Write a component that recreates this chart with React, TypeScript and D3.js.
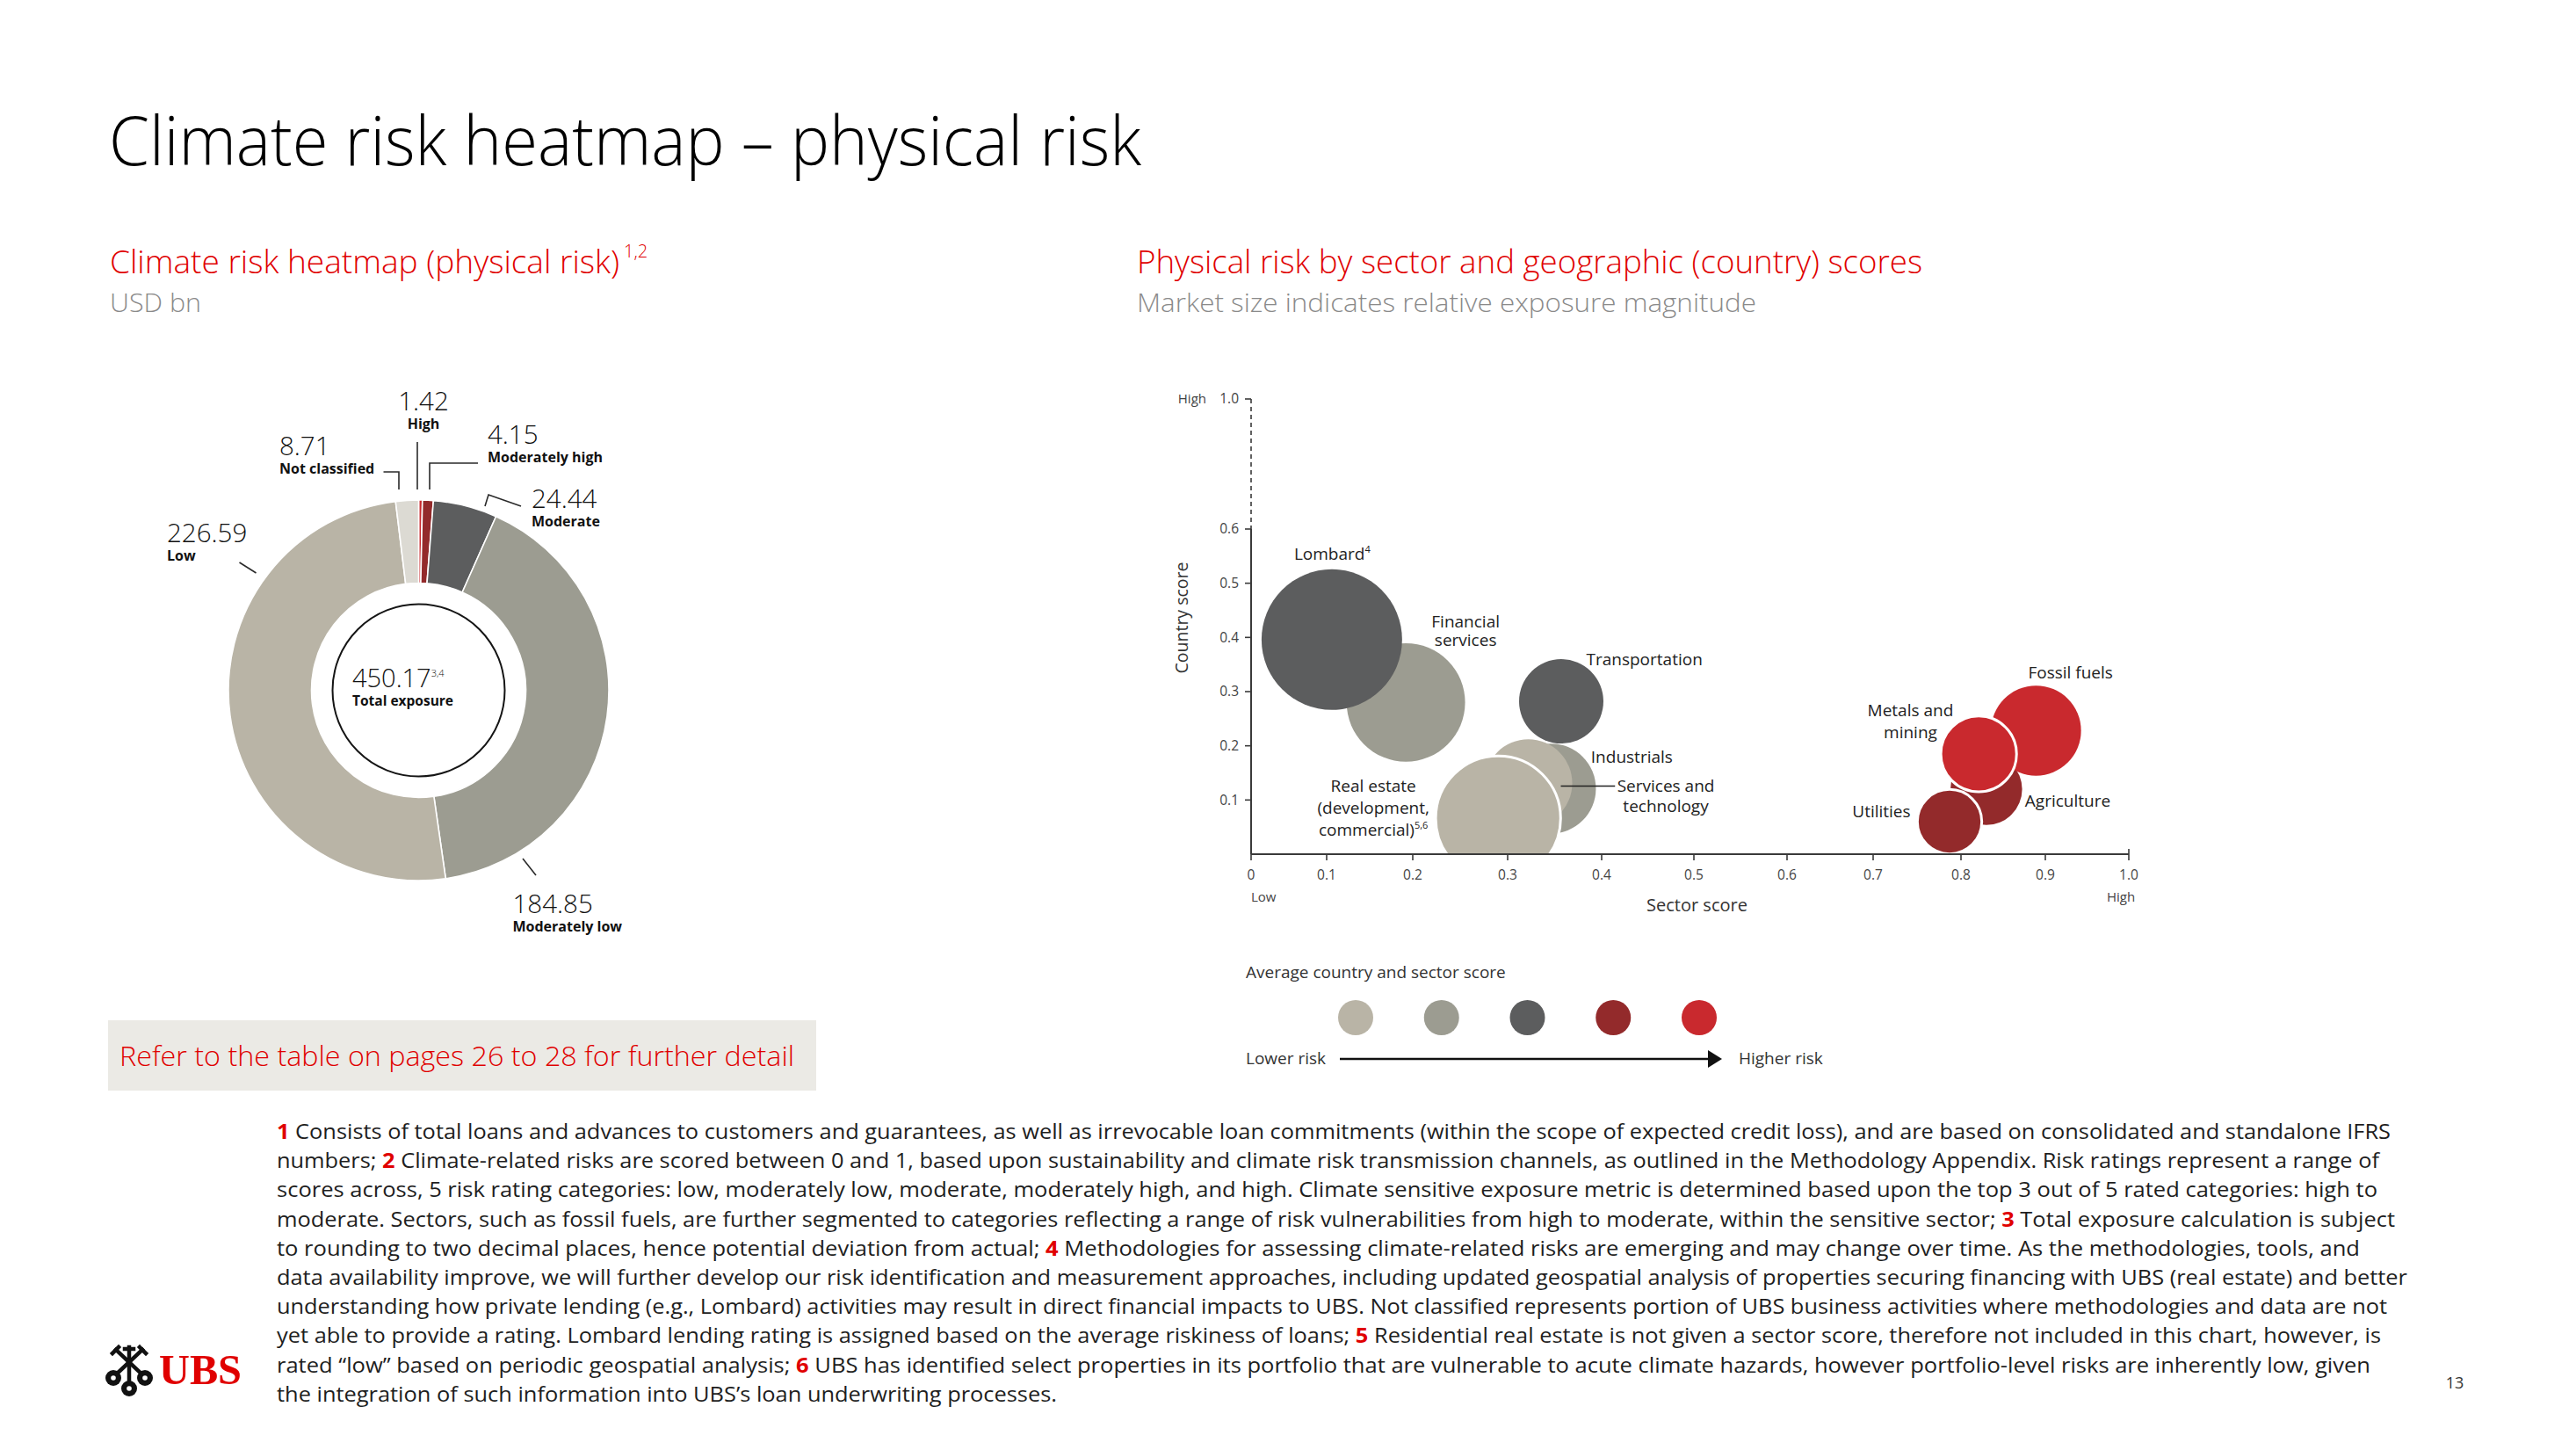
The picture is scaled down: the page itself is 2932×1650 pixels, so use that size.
import React, { useEffect } from "react";
import * as d3 from "d3";

// ---------------- DATA ----------------
const DONUT_CATEGORIES = ["High", "Moderately high", "Moderate", "Moderately low", "Low", "Not classified"];
const DONUT_VALUES = [1.42, 4.15, 24.44, 184.85, 226.59, 8.71];
const DONUT_LABELS = ["1.42", "4.15", "24.44", "184.85", "226.59", "8.71"];
const TOTAL_EXPOSURE = "450.17";

const SECTORS = [
  "Financial services",
  "Lombard",
  "Transportation",
  "Industrials",
  "Services and technology",
  "Real estate",
  "Agriculture",
  "Fossil fuels",
  "Metals and mining",
  "Utilities",
];
const SECTOR_SCORE = [0.192, 0.106, 0.357, 0.346, 0.322, 0.29, 0.83, 0.889, 0.821, 0.787];
const COUNTRY_SCORE = [0.28, 0.396, 0.282, 0.121, 0.131, 0.066, 0.12, 0.228, 0.185, 0.06];
const EXPOSURE_INDEX = [71, 100, 36, 41, 39, 79, 26, 41, 29, 21];
const SECTOR_RISK = [
  "Moderately low",
  "Moderate",
  "Moderate",
  "Moderately low",
  "Low",
  "Low",
  "Moderately high",
  "High",
  "High",
  "Moderately high",
];

const X_TICKS = [0, 0.1, 0.2, 0.3, 0.4, 0.5, 0.6, 0.7, 0.8, 0.9, 1.0];
const X_TICK_LABELS = ["0", "0.1", "0.2", "0.3", "0.4", "0.5", "0.6", "0.7", "0.8", "0.9", "1.0"];
const Y_TICKS = [0.1, 0.2, 0.3, 0.4, 0.5, 0.6, 1.0];
const Y_TICK_LABELS = ["0.1", "0.2", "0.3", "0.4", "0.5", "0.6", "1.0"];

const LEGEND_LEVELS = ["Low", "Moderately low", "Moderate", "Moderately high", "High"];

const FOOTNOTE_LINES = [
  "{1} Consists of total loans and advances to customers and guarantees, as well as irrevocable loan commitments (within the scope of expected credit loss), and are based on consolidated and standalone IFRS",
  "numbers; {2} Climate-related risks are scored between 0 and 1, based upon sustainability and climate risk transmission channels, as outlined in the Methodology Appendix. Risk ratings represent a range of",
  "scores across, 5 risk rating categories: low, moderately low, moderate, moderately high, and high. Climate sensitive exposure metric is determined based upon the top 3 out of 5 rated categories: high to",
  "moderate. Sectors, such as fossil fuels, are further segmented to categories reflecting a range of risk vulnerabilities from high to moderate, within the sensitive sector; {3} Total exposure calculation is subject",
  "to rounding to two decimal places, hence potential deviation from actual; {4} Methodologies for assessing climate-related risks are emerging and may change over time. As the methodologies, tools, and",
  "data availability improve, we will further develop our risk identification and measurement approaches, including updated geospatial analysis of properties securing financing with UBS (real estate) and better",
  "understanding how private lending (e.g., Lombard) activities may result in direct financial impacts to UBS. Not classified represents portion of UBS business activities where methodologies and data are not",
  "yet able to provide a rating. Lombard lending rating is assigned based on the average riskiness of loans; {5} Residential real estate is not given a sector score, therefore not included in this chart, however, is",
  "rated \u201clow\u201d based on periodic geospatial analysis; {6} UBS has identified select properties in its portfolio that are vulnerable to acute climate hazards, however portfolio-level risks are inherently low, given",
  "the integration of such information into UBS\u2019s loan underwriting processes.",
];

// ---------------- STYLE / LAYOUT ----------------
const FONT = "'Open Sans', 'Noto Sans', sans-serif";
const UBS_RED = "#e00000";
const SUB_GRAY = "#8a8a8a";
const RISK_COLORS: Record<string, string> = {
  Low: "#b9b4a6",
  "Moderately low": "#9c9c91",
  Moderate: "#5c5d5e",
  "Moderately high": "#932a2b",
  High: "#c9292e",
  "Not classified": "#dcdad3",
};

const DONUT = { cx: 476.5, cy: 785.5, rOuter: 216.5, rInner: 122, rRing: 98 };
const DONUT_LABEL_LAYOUT: Record<string, any> = {
  High: { x: 5.5, y: -318.5, anchor: "middle", leader: [[-1.5, -282.5], [-1.5, -228.5]] },
  "Not classified": { x: -158.5, y: -267.5, anchor: "start", leader: [[-40, -248.5], [-22.5, -248.5], [-22.5, -228.5]] },
  "Moderately high": { x: 78.5, y: -280.5, anchor: "start", leader: [[67.5, -258.5], [12.5, -258.5], [12.5, -228.5]] },
  Moderate: { x: 128.5, y: -207.5, anchor: "start", leader: [[116.5, -209.5], [79.5, -222.5], [75.5, -209.5]] },
  Low: { x: -286.5, y: -168.5, anchor: "start", leader: [[-204, -145.5], [-185, -133.5]] },
  "Moderately low": { x: 107, y: 253.5, anchor: "start", leader: [[118.5, 191.5], [133.5, 210.5]] },
};

// bubble chart frame
const X_AXIS_PX = [1424, 1510, 1608, 1716, 1823, 1928, 2034, 2132, 2232, 2328, 2423];
const Y_DOMAIN = [0, 0.6, 1.0];
const Y_RANGE = [972, 602, 454];
const MAX_R = 80;
const OUTLINED = new Set(["Real estate", "Metals and mining", "Utilities"]);

const BUBBLE_LABELS: Record<string, any> = {
  Lombard: { lines: ["Lombard"], sup: "4", dx: -43, dy: -91, anchor: "start", lh: 0 },
  "Financial services": { lines: ["Financial", "services"], dx: 68, dy: -85, anchor: "middle", lh: 21 },
  Transportation: { lines: ["Transportation"], dx: 28.5, dy: -41.6, anchor: "start", lh: 0 },
  Industrials: { lines: ["Industrials"], dx: 45.6, dy: -29, anchor: "start", lh: 0 },
  "Services and technology": {
    lines: ["Services and", "technology"],
    dx: 156.5,
    dy: 9.5,
    anchor: "middle",
    lh: 23.5,
    leader: [37, 98.7, 3.4],
  },
  "Real estate": {
    lines: ["Real estate", "(development,", "commercial)"],
    sup: "5,6",
    dx: -142,
    dy: -30.5,
    anchor: "middle",
    lh: 25,
  },
  "Fossil fuels": { lines: ["Fossil fuels"], dx: -9, dy: -59, anchor: "start", lh: 0 },
  "Metals and mining": { lines: ["Metals and", "mining"], dx: -77.7, dy: -43.4, anchor: "middle", lh: 25 },
  Agriculture: { lines: ["Agriculture"], dx: 44, dy: 20.3, anchor: "start", lh: 0 },
  Utilities: { lines: ["Utilities"], dx: -44.4, dy: -4.7, anchor: "end", lh: 0 },
};

const FOOT_X = 315;
const FOOT_Y0 = 1296;
const FOOT_LH = 33.2;
const FOOT_WIDTHS = [2406, 2393, 2391, 2411, 2371, 2425, 2402, 2395, 2383, 888];

function FootLine({ text, i }: { text: string; i: number }) {
  const parts = text.split(/\{(\d)\}/);
  return (
    <text
      x={FOOT_X}
      y={FOOT_Y0 + i * FOOT_LH}
      fontSize={24}
      fill="#1e1e1e"
      textLength={FOOT_WIDTHS[i]}
      lengthAdjust="spacingAndGlyphs"
    >
      {parts.map((p, k) =>
        k % 2 === 1 ? (
          <tspan key={k} fill={UBS_RED} fontWeight={700}>
            {p}
          </tspan>
        ) : (
          <tspan key={k}>{p}</tspan>
        )
      )}
    </text>
  );
}

function Donut() {
  const pie = d3
    .pie<number>()
    .sort(null)
    .value((d) => d)
    .startAngle(0)
    .endAngle(2 * Math.PI);
  const arcs = pie(DONUT_VALUES);
  const arc = d3.arc<d3.PieArcDatum<number>>().innerRadius(DONUT.rInner).outerRadius(DONUT.rOuter);
  const line = d3.line();
  return (
    <g transform={`translate(${DONUT.cx},${DONUT.cy})`}>
      {arcs.map((a, i) => (
        <path
          key={i}
          d={arc(a) || ""}
          fill={RISK_COLORS[DONUT_CATEGORIES[i]]}
          stroke="#fff"
          strokeWidth={1.6}
        />
      ))}
      <circle r={DONUT.rRing} fill="none" stroke="#151515" strokeWidth={2} />
      <text x={-75.5} y={-3.5} fontSize={29} fontWeight={300} fill="#111">
        {TOTAL_EXPOSURE}
        <tspan dy={-12} fontSize={11}>
          3,4
        </tspan>
      </text>
      <text x={-75.5} y={17.5} fontSize={15.5} fontWeight={700} fill="#111">
        Total exposure
      </text>
      {DONUT_CATEGORIES.map((c, i) => {
        const L = DONUT_LABEL_LAYOUT[c];
        return (
          <g key={c}>
            <path d={line(L.leader) || ""} fill="none" stroke="#2a2a2a" strokeWidth={1.6} />
            <text x={L.x} y={L.y} textAnchor={L.anchor} fontSize={29.5} fontWeight={300} fill="#111">
              {DONUT_LABELS[i]}
            </text>
            <text x={L.x} y={L.y + 20.5} textAnchor={L.anchor} fontSize={16} fontWeight={700} fill="#111">
              {c}
            </text>
          </g>
        );
      })}
    </g>
  );
}

function BubbleChart() {
  const x = d3.scaleLinear().domain(X_TICKS).range(X_AXIS_PX);
  const y = d3.scaleLinear().domain(Y_DOMAIN).range(Y_RANGE);
  const r = d3.scaleSqrt().domain([0, d3.max(EXPOSURE_INDEX) as number]).range([0, MAX_R]);
  const x0 = x(0);
  const y0 = y(0);
  const yTop = y(1.0);
  const ySolid = y(0.6);
  return (
    <g>
      <defs>
        <clipPath id="plotClip">
          <rect x={x0} y={300} width={1200} height={y0 - 300} />
        </clipPath>
      </defs>
      {/* bubbles */}
      <g clipPath="url(#plotClip)">
        {SECTORS.map((s, i) => (
          <circle
            key={s}
            cx={x(SECTOR_SCORE[i])}
            cy={y(COUNTRY_SCORE[i])}
            r={r(EXPOSURE_INDEX[i])}
            fill={RISK_COLORS[SECTOR_RISK[i]]}
            stroke={OUTLINED.has(s) ? "#fff" : "none"}
            strokeWidth={3}
          />
        ))}
      </g>
      {/* axes */}
      <line x1={x0} x2={x(1)} y1={y0} y2={y0} stroke="#3a3a3a" strokeWidth={2} />
      <line x1={x0} x2={x0} y1={ySolid} y2={y0} stroke="#3a3a3a" strokeWidth={2} />
      <line x1={x0} x2={x0} y1={yTop} y2={ySolid} stroke="#3a3a3a" strokeWidth={1.6} strokeDasharray="5,4" />
      {X_TICKS.map((t, i) => (
        <g key={t}>
          <line x1={x(t)} x2={x(t)} y1={y0} y2={y0 + 7} stroke="#3a3a3a" strokeWidth={1.6} />
          <text x={x(t)} y={y0 + 29} textAnchor="middle" fontSize={15.5} fill="#444">
            {X_TICK_LABELS[i]}
          </text>
        </g>
      ))}
      <line x1={x(1)} x2={x(1)} y1={y0 - 6} y2={y0} stroke="#3a3a3a" strokeWidth={1.6} />
      {Y_TICKS.map((t, i) => (
        <g key={t}>
          <line x1={x0 - 7} x2={x0} y1={y(t)} y2={y(t)} stroke="#3a3a3a" strokeWidth={1.6} />
          <text x={x0 - 14} y={y(t)} dy="0.35em" textAnchor="end" fontSize={15.5} fill="#444">
            {Y_TICK_LABELS[i]}
          </text>
        </g>
      ))}
      <text x={x0 - 51} y={yTop} dy="0.35em" textAnchor="end" fontSize={15} fill="#444">
        High
      </text>
      <text x={x0} y={y0 + 54} textAnchor="start" fontSize={15} fill="#444">
        Low
      </text>
      <text x={x(1) - 9} y={y0 + 54} textAnchor="middle" fontSize={15} fill="#444">
        High
      </text>
      <text x={(X_AXIS_PX[0] + X_AXIS_PX[10]) / 2 + 8} y={y0 + 65} textAnchor="middle" fontSize={20} fill="#333">
        Sector score
      </text>
      <text
        transform={`translate(${x0 - 79},${(ySolid + y0) / 2 - 84}) rotate(-90)`}
        textAnchor="middle"
        dy="0.35em"
        fontSize={19.5}
        fill="#333"
      >
        Country score
      </text>
      {/* labels */}
      {SECTORS.map((s, i) => {
        const L = BUBBLE_LABELS[s];
        const cx = x(SECTOR_SCORE[i]);
        const cy = y(COUNTRY_SCORE[i]);
        return (
          <g key={s}>
            {L.leader && (
              <line
                x1={cx + L.leader[0]}
                x2={cx + L.leader[1]}
                y1={cy + L.leader[2]}
                y2={cy + L.leader[2]}
                stroke="#222"
                strokeWidth={1.5}
              />
            )}
            {L.lines.map((ln: string, k: number) => (
              <text
                key={k}
                x={cx + L.dx}
                y={cy + L.dy + k * L.lh}
                textAnchor={L.anchor}
                fontSize={19}
                fill="#222"
              >
                {ln}
                {L.sup && k === L.lines.length - 1 && (
                  <tspan dy={-8} fontSize={11}>
                    {L.sup}
                  </tspan>
                )}
              </text>
            ))}
          </g>
        );
      })}
    </g>
  );
}

function Legend() {
  const lx = d3.scalePoint<string>().domain(LEGEND_LEVELS).range([1543, 1934]);
  return (
    <g>
      <text x={1418} y={1113} fontSize={19} fill="#333">
        Average country and sector score
      </text>
      {LEGEND_LEVELS.map((l) => (
        <circle key={l} cx={lx(l)} cy={1158} r={20} fill={RISK_COLORS[l]} />
      ))}
      <text x={1418} y={1211} fontSize={19} fill="#333">
        Lower risk
      </text>
      <line x1={1525} x2={1948} y1={1205} y2={1205} stroke="#111" strokeWidth={2.5} />
      <path d="M1944,1195 L1960,1205 L1944,1215 Z" fill="#111" />
      <text x={1979} y={1211} fontSize={19} fill="#333">
        Higher risk
      </text>
    </g>
  );
}

function Logo() {
  return (
    <g>
      <g stroke="#111" strokeWidth={4.5} strokeLinecap="square">
        <line x1={130} y1={1566} x2={162} y2={1536} />
        <line x1={164} y1={1566} x2={132} y2={1536} />
        <line x1={147} y1={1578} x2={147} y2={1533} />
        <line x1={159} y1={1533} x2={166} y2={1540} />
        <line x1={135} y1={1533} x2={128} y2={1540} />
        <line x1={142} y1={1535} x2={152} y2={1535} />
      </g>
      {[
        [129, 1568],
        [147, 1580],
        [165, 1568],
      ].map((p, i) => (
        <g key={i}>
          <circle cx={p[0]} cy={p[1]} r={9} fill="#111" />
          <circle cx={p[0]} cy={p[1]} r={2.8} fill="#fff" />
        </g>
      ))}
      <text
        x={181}
        y={1575}
        fontFamily="'Liberation Serif', 'DejaVu Serif', serif"
        fontWeight={700}
        fontSize={49}
        fill={UBS_RED}
        textLength={94}
        lengthAdjust="spacingAndGlyphs"
      >
        UBS
      </text>
    </g>
  );
}

export default function App() {
  useEffect(() => {
    document.body.style.margin = "0";
    document.body.style.overflow = "hidden";
  }, []);
  return (
    <svg
      width={2932}
      height={1650}
      viewBox="0 0 2932 1650"
      style={{ display: "block", position: "absolute", left: 0, top: 0, background: "#fff" }}
      fontFamily={FONT}
    >
      <rect x={0} y={0} width={2932} height={1650} fill="#fff" />
      <text x={124} y={188} fontSize={78} fontWeight={300} fill="#000" textLength={1175} lengthAdjust="spacingAndGlyphs">
        Climate risk heatmap – physical risk
      </text>

      <text x={125} y={311} fontSize={36} fontWeight={300} fill={UBS_RED} textLength={580} lengthAdjust="spacingAndGlyphs">
        Climate risk heatmap (physical risk)
      </text>
      <text x={710} y={293} fontSize={20} fontWeight={300} fill={UBS_RED}>
        1,2
      </text>
      <text x={125} y={355} fontSize={30} fontWeight={300} fill={SUB_GRAY} textLength={104} lengthAdjust="spacingAndGlyphs">
        USD bn
      </text>

      <text x={1294} y={311} fontSize={36} fontWeight={300} fill={UBS_RED} textLength={894} lengthAdjust="spacingAndGlyphs">
        Physical risk by sector and geographic (country) scores
      </text>
      <text x={1294} y={355} fontSize={30} fontWeight={300} fill={SUB_GRAY} textLength={705} lengthAdjust="spacingAndGlyphs">
        Market size indicates relative exposure magnitude
      </text>

      <Donut />

      <rect x={123} y={1161} width={806} height={80} fill="#ebeae5" />
      <text x={136} y={1213} fontSize={31} fontWeight={300} fill={UBS_RED} textLength={768} lengthAdjust="spacingAndGlyphs">
        Refer to the table on pages 26 to 28 for further detail
      </text>

      <BubbleChart />
      <Legend />

      {FOOTNOTE_LINES.map((t, i) => (
        <FootLine key={i} text={t} i={i} />
      ))}

      <Logo />
      <text x={2794} y={1580} textAnchor="middle" fontSize={18} fill="#333">
        13
      </text>
    </svg>
  );
}
